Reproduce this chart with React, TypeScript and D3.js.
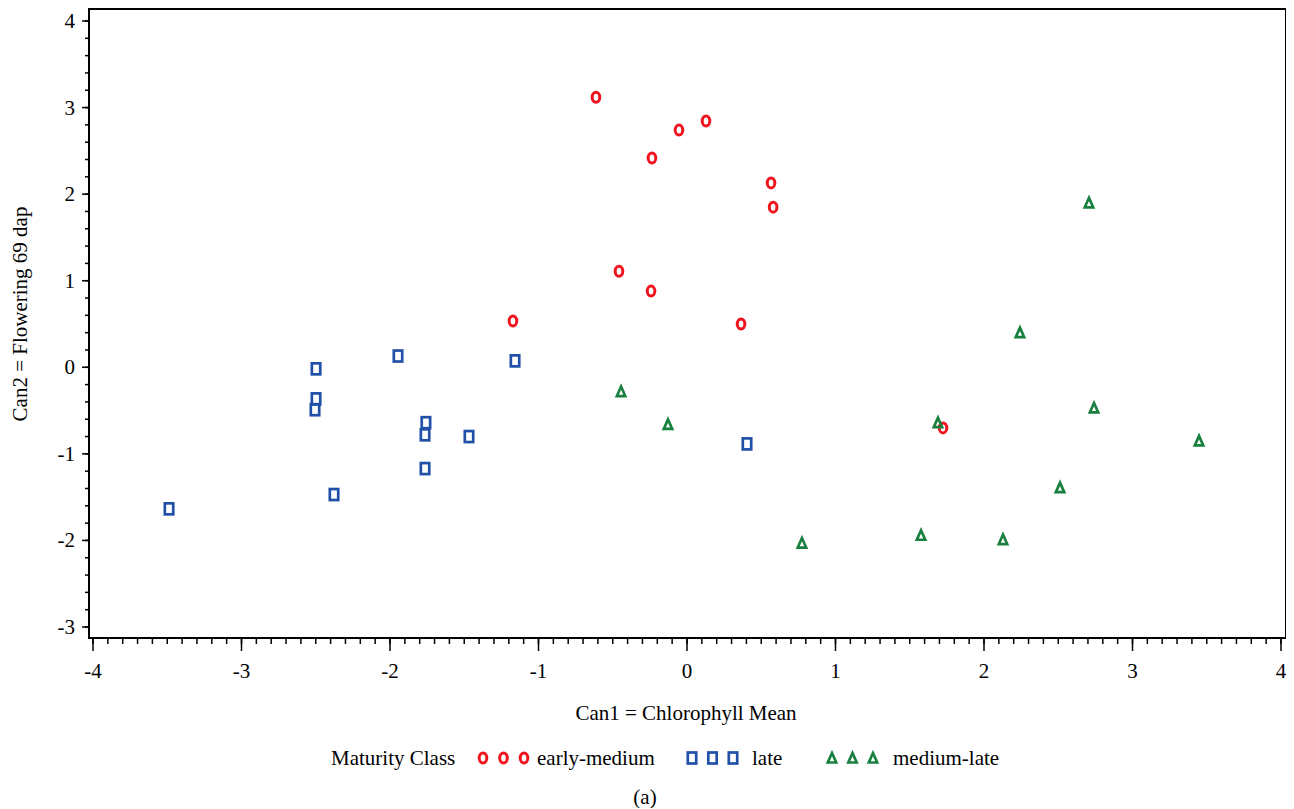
import React from 'react';
import * as d3 from 'd3';

// Canonical scores
const earlyMedium: [number, number][] = [
  [-0.613, 3.12], [-0.054, 2.74], [0.128, 2.845], [-0.236, 2.418],
  [0.566, 2.13], [0.58, 1.85], [-0.458, 1.11], [-0.242, 0.88],
  [-1.172, 0.535], [0.364, 0.5], [1.724, -0.7],
];
const late: [number, number][] = [
  [-3.488, -1.635], [-2.498, -0.018], [-2.498, -0.365], [-2.505, -0.49],
  [-2.377, -1.47], [-1.946, 0.13], [-1.758, -0.64], [-1.764, -0.78],
  [-1.764, -1.17], [-1.468, -0.8], [-1.158, 0.074], [0.404, -0.885],
];
const mediumLate: [number, number][] = [
  [2.707, 1.9], [2.242, 0.4], [-0.444, -0.28], [-0.128, -0.66],
  [1.69, -0.64], [2.741, -0.47], [3.448, -0.85], [2.512, -1.39],
  [0.774, -2.03], [1.576, -1.94], [2.128, -1.99],
];

const xTicks = [-4, -3, -2, -1, 0, 1, 2, 3, 4];
const yTicks = [-3, -2, -1, 0, 1, 2, 3, 4];

const RED = '#f0141e';
const BLUE = '#2050a8';
const GREEN = '#1a8040';
const FONT = 'Liberation Serif, Times New Roman, serif';
const FS = 21;

const x = d3.scaleLinear().domain([-4, 4]).range([85, 1273]);
const y = d3.scaleLinear().domain([-3, 4]).range([619, 13]);

const plot = { left: 81, right: 1278, top: 1, bottom: 630 };

const Marker = ({ kind, cx, cy }: { kind: string; cx: number; cy: number }) => {
  if (kind === 'circle') {
    return <ellipse cx={cx} cy={cy} rx={3.8} ry={5} fill="none" stroke={RED} strokeWidth={3} />;
  }
  if (kind === 'square') {
    return <rect x={cx - 4.2} y={cy - 5.5} width={8.4} height={11} fill="none" stroke={BLUE} strokeWidth={2.7} />;
  }
  return <path d={`M${cx},${cy - 5} L${cx + 4.2},${cy + 4.5} L${cx - 4.2},${cy + 4.5} Z`} fill="none" stroke={GREEN} strokeWidth={2.7} strokeLinejoin="miter" />;
};

const T = (props: any) => <text fontFamily={FONT} fontSize={FS} fill="#000" {...props} />;

export default function App() {
  const xMinor = d3.range(-40, 41).map((d) => d / 10);
  const yMinor = d3.range(-15, 21).map((d) => d / 5);
  const series = [
    { data: earlyMedium, kind: 'circle' },
    { data: late, kind: 'square' },
    { data: mediumLate, kind: 'triangle' },
  ];
  const legend = [
    { kind: 'circle', label: 'early-medium', x0: 475, tx: 529 },
    { kind: 'square', label: 'late', x0: 684, tx: 744 },
    { kind: 'triangle', label: 'medium-late', x0: 824, tx: 885 },
  ];
  return (
    <svg width={1278} height={800} style={{ display: 'block' }}>
      <rect x={0} y={0} width={1278} height={800} fill="#fff" />
      {/* frame */}
      <rect x={plot.left} y={plot.top} width={plot.right - plot.left} height={plot.bottom - plot.top} fill="none" stroke="#000" strokeWidth={2} />
      {/* x ticks */}
      {xMinor.map((t) => (
        <line key={'xm' + t} x1={x(t)} x2={x(t)} y1={plot.bottom} y2={plot.bottom + 6} stroke="#000" strokeWidth={1.5} />
      ))}
      {xTicks.map((t) => (
        <g key={'x' + t}>
          <line x1={x(t)} x2={x(t)} y1={plot.bottom} y2={plot.bottom + 13} stroke="#000" strokeWidth={1.5} />
          <T x={x(t)} y={670} textAnchor="middle">{t < 0 ? '-' + Math.abs(t) : t}</T>
        </g>
      ))}
      {/* y ticks */}
      {yMinor.map((t) => (
        <line key={'ym' + t} x1={plot.left} x2={plot.left - 4} y1={y(t)} y2={y(t)} stroke="#000" strokeWidth={1.5} />
      ))}
      {yTicks.map((t) => (
        <g key={'y' + t}>
          <line x1={plot.left} x2={plot.left - 7} y1={y(t)} y2={y(t)} stroke="#000" strokeWidth={1.5} />
          <T x={67} y={y(t) + 7} textAnchor="end">{t < 0 ? '-' + Math.abs(t) : t}</T>
        </g>
      ))}
      {/* points */}
      {series.map((s) =>
        s.data.map((d, i) => <Marker key={s.kind + i} kind={s.kind} cx={x(d[0])} cy={y(d[1])} />)
      )}
      {/* axis labels */}
      <T x={678} y={712} textAnchor="middle">Can1 = Chlorophyll Mean</T>
      <T transform="translate(19,306) rotate(-90)" textAnchor="middle">Can2 = Flowering 69 dap</T>
      {/* legend */}
      <T x={323} y={757}>Maturity Class</T>
      {legend.map((l) => (
        <g key={l.label}>
          {[0, 1, 2].map((k) => (
            <Marker key={k} kind={l.kind} cx={l.x0 + k * 20.5} cy={750} />
          ))}
          <T x={l.tx} y={757}>{l.label}</T>
        </g>
      ))}
      <T x={637} y={796} textAnchor="middle">(a)</T>
    </svg>
  );
}
